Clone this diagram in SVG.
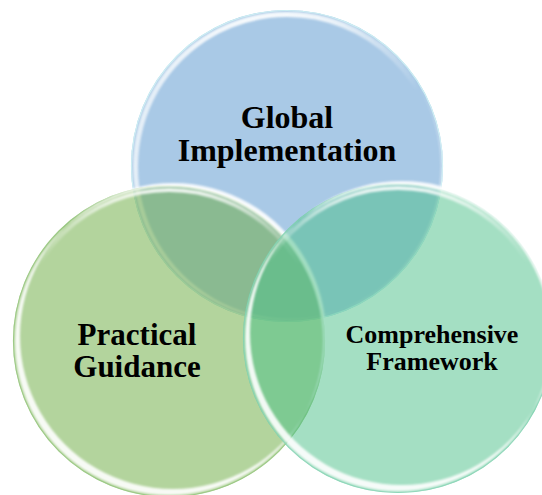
<svg xmlns="http://www.w3.org/2000/svg" width="542" height="495" viewBox="0 0 542 495">
<defs>
  <style>
    .lbl { font-family: "Liberation Serif", "Times New Roman", serif; font-weight: bold; fill: #000; text-anchor: middle; }
    .hl { fill: #fff; fill-rule: evenodd; filter: url(#soft); }
    .top { fill: none; stroke: url(#topg); stroke-width: 4; filter: url(#soft); }
  </style>
  <filter id="soft" x="-5%" y="-5%" width="110%" height="110%">
    <feGaussianBlur stdDeviation="0.9"/>
  </filter>
  <linearGradient id="topg" x1="0" y1="0" x2="0" y2="1">
    <stop offset="0" stop-color="#fff" stop-opacity="0.85"/>
    <stop offset="0.12" stop-color="#fff" stop-opacity="0.35"/>
    <stop offset="0.25" stop-color="#fff" stop-opacity="0"/>
  </linearGradient>
</defs>

<g id="node-global">
  <circle cx="287" cy="166" r="156" fill="#A9C9E6"/>
  <circle cx="287" cy="166" r="155.5" fill="none" stroke="#c9ecf2" stroke-width="1.2"/>
  <circle cx="287" cy="166" r="151" class="top"/>
  <path class="hl" opacity="0.7" d="M 287 12 a 154 154 0 1 0 0.01 0 Z M 290 15 a 152 152 0 1 0 0.01 0 Z"/>
  <text class="lbl" x="287" y="128" font-size="32">Global</text>
  <text class="lbl" x="287" y="161" font-size="32">Implementation</text>
</g>

<g id="node-practical">
  <circle cx="169" cy="341" r="156" fill="rgb(110,172,68)" fill-opacity="0.52"/>
  <circle cx="169" cy="341" r="155.5" fill="none" stroke="#8fc276" stroke-width="1.2" stroke-opacity="0.8"/>
  <circle cx="169" cy="341" r="151" class="top"/>
  <path class="hl" opacity="0.9" d="M 169 187 a 154 154 0 1 0 0.01 0 Z M 173 183 a 153 153 0 1 0 0.01 0 Z"/>
  <text class="lbl" x="137" y="345" font-size="31">Practical</text>
  <text class="lbl" x="137" y="377" font-size="31">Guidance</text>
</g>

<g id="node-comprehensive">
  <circle cx="398" cy="338" r="155" fill="rgb(73,192,136)" fill-opacity="0.5"/>
  <circle cx="398" cy="338" r="154.5" fill="none" stroke="#7fd1b0" stroke-width="1.2" stroke-opacity="0.8"/>
  <circle cx="398" cy="338" r="150" class="top"/>
  <path class="hl" opacity="0.9" d="M 398 185 a 153 153 0 1 0 0.01 0 Z M 402 181 a 152 152 0 1 0 0.01 0 Z"/>
  <text class="lbl" x="432" y="343" font-size="26">Comprehensive</text>
  <text class="lbl" x="432" y="370" font-size="26">Framework</text>
</g>

<g id="connectors"></g>
</svg>
